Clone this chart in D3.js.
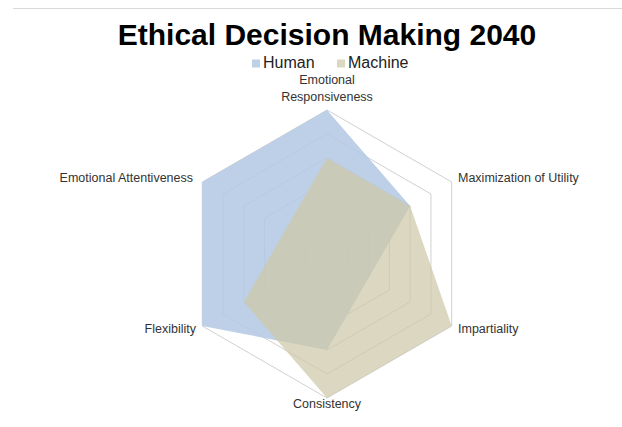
<!DOCTYPE html>
<html>
<head>
<meta charset="utf-8">
<script src="https://cdn.jsdelivr.net/npm/d3@7"></script>
<style>
	body { margin: 0; background: #fff; }
	svg { display: block; font-family: "Liberation Sans", Arial, sans-serif; }
</style>
</head>
<body>
<svg id="chart" width="622" height="427"></svg>
<script>
// data
var axes = ["Emotional Responsiveness", "Maximization of Utility", "Impartiality",
	"Consistency", "Flexibility", "Emotional Attentiveness"];
var seriesNames = ["Human", "Machine"];
var human = [6, 4, 2, 4, 6, 6];
var machine = [4, 4, 6, 6, 4, 2];
var levels = [1, 2, 3, 4, 5, 6];

var colors = { Human: "#b2c8e3", Machine: "#cfc8a8" };
var opac = { Human: 0.86, Machine: 0.72 };

var svg = d3.select("#chart");
var cx = 327, cy = 254;

var r = d3.scaleLinear().domain([0, 6]).range([0, 144]);
var angle = d3.scalePoint().domain(axes).range([0, 2 * Math.PI * 5 / 6]);

function pt(axis, v) {
	var a = angle(axis);
	return [cx + r(v) * Math.sin(a), cy - r(v) * Math.cos(a)];
}

// thin rule at the top
svg.append("line")
	.attr("x1", 13).attr("x2", 622)
	.attr("y1", 8.5).attr("y2", 8.5)
	.style("stroke", "#d9d9d9")
	.style("stroke-width", 1);

svg.append("text")
	.attr("x", cx).attr("y", 45)
	.attr("text-anchor", "middle")
	.style("font-size", "30px")
	.style("font-weight", "bold")
	.style("fill", "#000")
	.text("Ethical Decision Making 2040");

// legend
var legendX = [252, 337];
var lg = svg.selectAll("g.legend").data(seriesNames).enter().append("g")
	.attr("class", "legend")
	.attr("transform", function(d, i) { return "translate(" + legendX[i] + ",0)"; });
lg.append("rect")
	.attr("x", 0).attr("y", 59.5)
	.attr("width", 8).attr("height", 8)
	.style("fill", function(d) { return colors[d]; })
	.style("fill-opacity", function(d) { return opac[d]; });
lg.append("text")
	.attr("x", 11).attr("y", 68)
	.style("font-size", "16px")
	.style("fill", "#222")
	.text(function(d) { return d; });

// grid rings
var grid = svg.append("g");
grid.selectAll("polygon").data(levels).enter().append("polygon")
	.attr("points", function(l) {
		return axes.map(function(a) { return pt(a, l).join(","); }).join(" ");
	})
	.style("fill", "none")
	.style("stroke", "#d0d0d0")
	.style("stroke-width", 1);

// series areas
var line = d3.lineRadial()
	.angle(function(d, i) { return angle(axes[i]); })
	.radius(function(d) { return r(d); })
	.curve(d3.curveLinearClosed);

var seriesData = [human, machine];
svg.append("g")
	.attr("transform", "translate(" + cx + "," + cy + ")")
	.selectAll("path").data(seriesData).enter().append("path")
	.attr("d", line)
	.style("fill", function(d, i) { return colors[seriesNames[i]]; })
	.style("fill-opacity", function(d, i) { return opac[seriesNames[i]]; })
	.style("stroke", "none");

// axis labels
var labelPos = [
	{ x: cx, y: [84, 101], anchor: "middle", lines: ["Emotional", "Responsiveness"] },
	{ x: 458, y: [182], anchor: "start" },
	{ x: 458, y: [333], anchor: "start" },
	{ x: cx, y: [408], anchor: "middle" },
	{ x: 196, y: [333], anchor: "end" },
	{ x: 193, y: [182], anchor: "end" }
];
var labels = svg.append("g");
axes.forEach(function(a, i) {
	var p = labelPos[i];
	var lines = p.lines || [a];
	var t = labels.append("text")
		.attr("text-anchor", p.anchor)
		.style("font-size", "12.5px")
		.style("fill", "#333");
	lines.forEach(function(s, j) {
		t.append("tspan").attr("x", p.x).attr("y", p.y[j]).text(s);
	});
});
</script>
</body>
</html>
